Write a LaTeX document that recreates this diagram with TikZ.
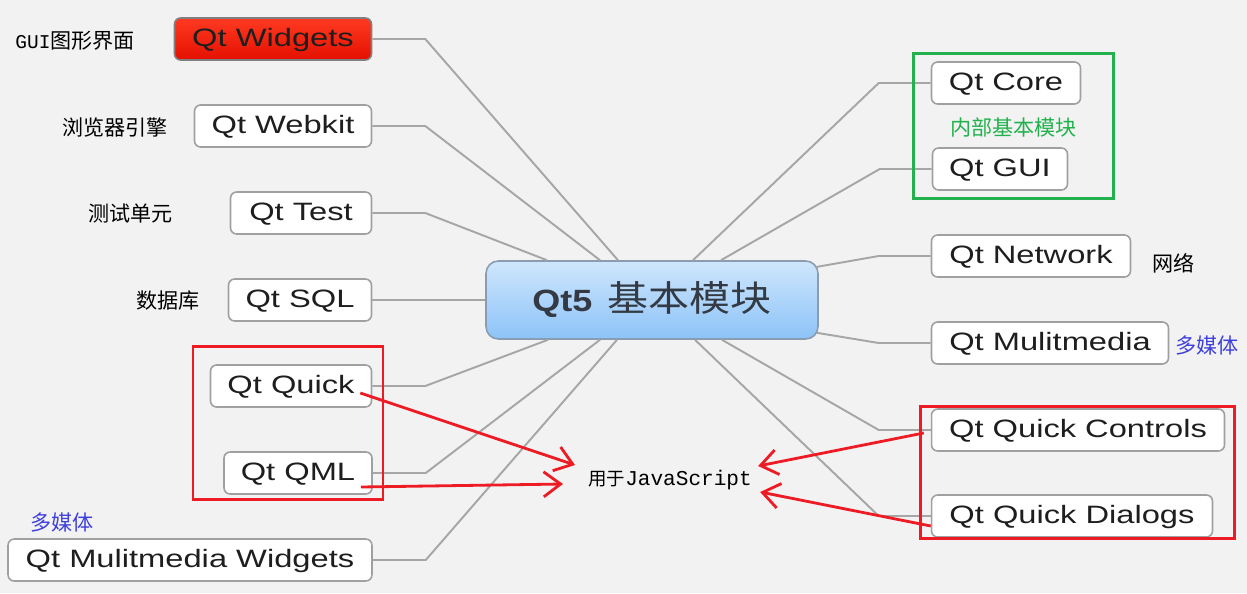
\documentclass[tikz,border=0pt]{standalone}
\usepackage{fontspec}
\usepackage{tikz}
\usetikzlibrary{arrows.meta}
\newfontfamily\boxfont[FakeStretch=1.3]{Liberation Sans}
\newfontfamily\hubfont[FakeStretch=1.17]{Liberation Sans Bold}
\newfontfamily\cjk{Noto Sans CJK SC}
\newfontfamily\hubcjk[FakeStretch=1.15]{Noto Sans CJK SC}
\newfontfamily\jsmono{Liberation Mono}
\definecolor{bggray}{HTML}{F2F2F2}
\definecolor{linkgray}{HTML}{A6A6A6}
\definecolor{boxgray}{HTML}{A0A0A0}
\definecolor{textgray}{HTML}{1E1E1E}
\definecolor{hubtop}{HTML}{CFE6FC}
\definecolor{hubbot}{HTML}{8CC3F8}
\definecolor{hubline}{HTML}{8C9CB0}
\definecolor{hubtext}{HTML}{333A44}
\definecolor{marksred}{HTML}{ED1C24}
\definecolor{marksgreen}{HTML}{22B14C}
\definecolor{noteblue}{HTML}{4040DD}
\definecolor{widgettop}{HTML}{FF3A22}
\definecolor{widgetbot}{HTML}{E41000}

\begin{document}
\begin{tikzpicture}[x=0.02cm, y=-0.02cm,
    leaf/.style = {draw=boxgray, line width=0.9pt, fill=white, rounded corners=3.5pt,
        minimum height=0.84cm, inner sep=0pt, text=textgray,
        text height=10.2pt, text depth=1.2pt,
        font=\boxfont\fontsize{14.3}{16}\selectfont},
    hub/.style = {draw=hubline, line width=0.9pt, top color=hubtop, bottom color=hubbot,
        rounded corners=7pt, minimum width=6.64cm, minimum height=1.56cm, inner sep=0pt,
        text=hubtext},
    link/.style = {draw=linkgray, line width=1.1pt},
    note/.style = {font=\cjk\fontsize{12}{14}\selectfont, inner sep=0pt},
    jsarrow/.style = {draw=marksred, line width=1.6pt,
        -{Straight Barb[length=0.34cm, width=0.5cm, line width=1.6pt]}},
    frame/.style = {line width=1.7pt}]
    \useasboundingbox (0,0) rectangle (1247,593);
    \fill[bggray] (0,0) rectangle (1247,593);

    % centre
    \node[hub] (hub) at (652,300) {{\hubfont\fontsize{17.5}{20}\selectfont Qt5}\hspace{0.3cm}{\hubcjk\fontsize{20.3}{24}\selectfont 基本模块}};

    % left modules
    \node[leaf, minimum width=3.94cm, draw=boxgray!80!black, top color=widgettop, bottom color=widgetbot] (widgets) at (273,39) {Qt Widgets};
    \node[leaf, minimum width=3.54cm] (webkit) at (283,126) {Qt Webkit};
    \node[leaf, minimum width=2.82cm] (test) at (301,213) {Qt Test};
    \node[leaf, minimum width=2.86cm] (sql) at (300,300) {Qt SQL};
    \node[leaf, minimum width=3.22cm] (quick) at (291,386) {Qt Quick};
    \node[leaf, minimum width=2.96cm] (qml) at (298,473) {Qt QML};
    \node[leaf, minimum width=7.28cm] (mmwidgets) at (190,560) {Qt Mulitmedia Widgets};

    % right modules
    \node[leaf, minimum width=2.98cm] (core) at (1006,83) {Qt Core};
    \node[leaf, minimum width=2.70cm] (gui) at (1000,169) {Qt GUI};
    \node[leaf, minimum width=3.98cm] (network) at (1031,256) {Qt Network};
    \node[leaf, minimum width=4.74cm] (multimedia) at (1050,343) {Qt Mulitmedia};
    \node[leaf, minimum width=5.86cm] (controls) at (1078,430) {Qt Quick Controls};
    \node[leaf, minimum width=5.62cm] (dialogs) at (1072,516) {Qt Quick Dialogs};

    % branches
    \draw[link] (widgets.east) -- ++(53,0) -- ([xshift=-0.68cm]hub.north);
    \draw[link] (webkit.east) -- ++(53,0) -- ([xshift=-1.04cm]hub.north);
    \draw[link] (test.east) -- ++(53,0) -- ([xshift=-2.1cm]hub.north);
    \draw[link] (sql.east) -- (hub.west);
    \draw[link] (quick.east) -- ++(53,0) -- ([xshift=-2.08cm]hub.south);
    \draw[link] (qml.east) -- ++(53,0) -- ([xshift=-1.04cm]hub.south);
    \draw[link] (mmwidgets.east) -- ++(53,0) -- ([xshift=-0.7cm]hub.south);
    \draw[link] (core.west) -- ++(-52,0) -- ([xshift=0.82cm]hub.north);
    \draw[link] (gui.west) -- ++(-52,0) -- ([xshift=1.38cm]hub.north);
    \draw[link] (network.west) -- ++(-52,0) -- ([xshift=-0.08cm,yshift=-0.14cm]hub.north east);
    \draw[link] (multimedia.west) -- ++(-52,0) -- ([xshift=-0.04cm,yshift=0.14cm]hub.south east);
    \draw[link] (controls.west) -- ++(-52,0) -- ([xshift=1.4cm]hub.south);
    \draw[link] (dialogs.west) -- ++(-52,0) -- ([xshift=0.86cm]hub.south);

    % notes
    \node[note, anchor=west] (guinote) at (15,41) {{\jsmono\fontsize{11.1}{13}\selectfont GUI}图形界面};
    \node[note, anchor=west] (webkitnote) at (62,127) {浏览器引擎};
    \node[note, anchor=west] (testnote) at (88,214) {测试单元};
    \node[note, anchor=west] (sqlnote) at (136,301) {数据库};
    \node[note, anchor=west, text=marksgreen] (corenote) at (950,127) {内部基本模块};
    \node[note, anchor=west] (networknote) at (1152,263) {网络};
    \node[note, anchor=west, text=noteblue] (mmnote) at (1175,345) {多媒体};
    \node[note, anchor=west, text=noteblue] (mmwnote) at (30,522) {多媒体};
    \node[note, anchor=west] (js) at (588,480) {{\fontsize{10.5}{13}\selectfont 用于}{\jsmono\fontsize{12}{14}\selectfont JavaScript}};

    % marks
    \draw[frame, marksgreen] (913,53) rectangle (1113,198);
    \draw[frame, marksred] (193,346) rectangle (383,499);
    \draw[frame, marksred] (920,406) rectangle (1234,538);
    \draw[jsarrow] ([xshift=-0.24cm,yshift=-0.14cm]quick.east) -- ([xshift=-0.26cm,yshift=0.3cm]js.west);
    \draw[jsarrow] ([xshift=-0.24cm,yshift=-0.28cm]qml.east) -- ([xshift=-0.5cm,yshift=-0.08cm]js.west);
    \draw[jsarrow] ([xshift=-0.14cm,yshift=-0.06cm]controls.west) -- ([xshift=0.12cm,yshift=0.28cm]js.east);
    \draw[jsarrow] ([yshift=-0.2cm]dialogs.west) -- ([xshift=0.16cm,yshift=-0.24cm]js.east);
\end{tikzpicture}
\end{document}
